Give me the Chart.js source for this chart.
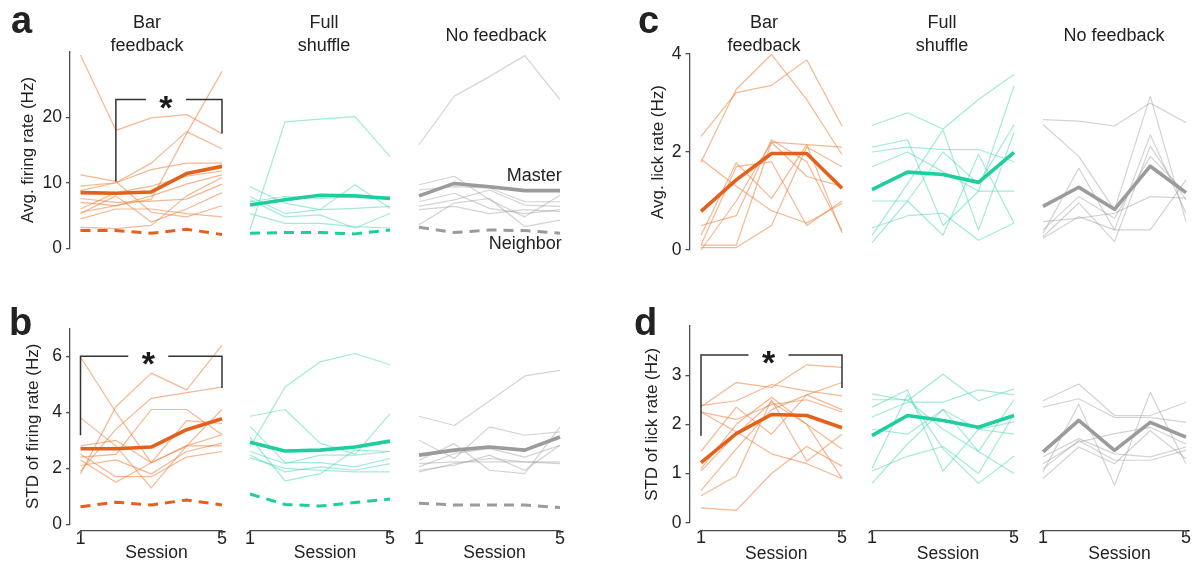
<!DOCTYPE html>
<html><head><meta charset="utf-8">
<script src="https://cdn.jsdelivr.net/npm/chart.js@4"></script>
<style>
html,body{margin:0;padding:0;background:#fff;}
#wrap{position:relative;width:1192px;height:565px;overflow:hidden;font-family:"Liberation Sans",Arial,sans-serif;color:#222;}
canvas{position:absolute;}
.t{position:absolute;white-space:nowrap;line-height:1;}
</style></head><body><div id="wrap"></div>
<script>
// ---------- data ----------
const sessions = [1, 2, 3, 4, 5];
const sessionTicks = [1, 5];
const firingTicks = [0, 10, 20];
const firingStdTicks = [0, 2, 4, 6];
const lickTicks = [0, 2, 4];
const lickStdTicks = [0, 1, 2, 3];

// a: average firing rate (Hz)
const firingBarMean = [8.5, 8.4, 8.6, 11.4, 12.5];
const firingBarNeighbor = [2.7, 2.7, 2.3, 2.9, 2.1];
const firingBarThin = [
  [29.5, 18.0, 19.9, 20.4, 17.5],
  [5.5, 6.5, 7.5, 17.5, 27.0],
  [9.5, 10.0, 13.0, 17.8, 15.2],
  [11.2, 10.2, 5.5, 4.8, 6.5],
  [8.8, 10.0, 12.0, 13.0, 13.0],
  [7.6, 7.0, 7.2, 7.5, 9.8],
  [6.0, 8.5, 9.5, 11.0, 11.8],
  [5.3, 8.0, 4.0, 6.0, 8.5],
  [4.5, 6.0, 6.0, 5.3, 4.8],
  [3.2, 3.0, 3.5, 8.0, 10.8],
  [7.0, 6.5, 8.0, 9.8, 11.2]
];
const firingShufMean = [6.6, 7.4, 8.1, 8.0, 7.6];
const firingShufNeighbor = [2.3, 2.4, 2.4, 2.2, 2.8];
const firingShufThin = [
  [2.8, 19.3, 19.7, 20.1, 14.0],
  [9.4, 6.9, 5.9, 9.7, 6.1],
  [7.9, 5.3, 5.9, 6.1, 6.4],
  [7.4, 4.8, 5.1, 3.1, 5.3],
  [5.3, 3.8, 3.8, 3.3, 3.1],
  [7.1, 7.9, 7.6, 7.9, 7.9]
];
const firingNoMean = [8.0, 9.9, 9.4, 8.8, 8.8];
const firingNoNeighbor = [3.2, 2.4, 2.8, 2.7, 2.3];
const firingNoThin = [
  [15.8, 23.2, 26.2, 29.4, 22.7],
  [9.7, 11.0, 7.4, 4.8, 8.1],
  [8.9, 9.4, 9.2, 7.1, 7.1],
  [6.4, 7.4, 8.9, 6.6, 6.4],
  [5.9, 6.4, 5.3, 5.9, 5.6],
  [3.6, 6.9, 7.6, 3.3, 4.3],
  [7.1, 8.4, 6.1, 5.3, 5.9]
];

// b: STD of firing rate (Hz)
const stdBarMean = [2.70, 2.70, 2.76, 3.38, 3.77];
const stdBarNeighbor = [0.63, 0.79, 0.69, 0.87, 0.69];
const stdBarThin = [
  [5.97, 4.0, 2.2, 2.8, 3.2],
  [3.8, 2.8, 1.3, 2.8, 4.1],
  [1.8, 4.2, 5.4, 4.8, 6.4],
  [1.9, 3.4, 4.5, 4.7, 4.9],
  [2.3, 1.5, 2.2, 3.7, 3.6],
  [2.4, 2.5, 4.1, 4.1, 3.2],
  [2.1, 2.3, 1.8, 2.6, 2.9],
  [2.5, 1.7, 1.7, 2.4, 2.6],
  [2.8, 3.0, 2.2, 2.8, 2.8]
];
const stdShufMean = [2.93, 2.62, 2.65, 2.76, 2.97];
const stdShufNeighbor = [1.08, 0.71, 0.65, 0.78, 0.90];
const stdShufThin = [
  [2.76, 4.9, 5.8, 6.1, 5.7],
  [3.86, 4.1, 2.9, 2.5, 3.95],
  [3.5, 2.2, 2.2, 2.05, 2.35],
  [3.1, 1.55, 1.8, 2.65, 2.6],
  [2.6, 2.17, 2.47, 2.47, 2.6],
  [2.37, 2.0, 1.93, 1.87, 1.87],
  [2.47, 1.87, 2.05, 1.93, 2.17]
];
const stdNoMean = [2.47, 2.65, 2.76, 2.65, 3.12];
const stdNoNeighbor = [0.75, 0.69, 0.69, 0.69, 0.6];
const stdNoThin = [
  [3.86, 3.53, 4.4, 5.3, 5.5],
  [3.0, 2.35, 3.48, 3.18, 3.3],
  [2.29, 2.88, 1.93, 1.81, 3.48],
  [2.05, 2.53, 2.7, 2.4, 2.82],
  [1.87, 2.17, 2.35, 2.23, 2.17],
  [2.17, 2.23, 2.23, 2.23, 2.23],
  [1.93, 2.11, 2.47, 1.93, 2.82]
];

// c: average lick rate (Hz)
const lickBarMean = [0.79, 1.43, 1.97, 1.97, 1.26];
const lickBarThin = [
  [2.32, 3.21, 3.36, 3.88, 2.53],
  [1.79, 3.28, 3.99, 3.07, 1.95],
  [1.85, 1.3, 0.8, 0.55, 0.95],
  [0.3, 1.78, 1.05, 2.15, 2.1],
  [0.1, 0.1, 2.2, 2.15, 0.35],
  [0.05, 0.05, 0.5, 2.1, 1.7],
  [0.5, 0.7, 2.25, 1.8, 0.4],
  [0.1, 1.7, 1.8, 0.5, 1.0],
  [0.0, 1.0, 2.2, 1.5, 1.3]
];
const lickShufMean = [1.23, 1.59, 1.54, 1.38, 1.99];
const lickShufThin = [
  [2.54, 2.8, 2.47, 3.07, 3.58],
  [2.1, 2.25, 0.5, 1.2, 3.35],
  [2.0, 2.1, 2.05, 2.05, 1.8],
  [1.7, 2.0, 1.6, 1.2, 1.2],
  [0.3, 1.35, 2.45, 0.4, 2.4],
  [1.0, 1.0, 2.0, 1.35, 2.55],
  [0.45, 0.7, 0.75, 0.2, 0.55],
  [0.15, 1.0, 0.3, 1.95, 0.55]
];
const lickNoMean = [0.89, 1.28, 0.83, 1.71, 1.17];
const lickNoThin = [
  [2.66, 2.63, 2.53, 3.0, 2.6],
  [2.56, 1.91, 0.82, 3.14, 0.58],
  [0.34, 1.67, 0.41, 2.35, 0.75],
  [0.27, 0.96, 0.17, 2.12, 1.02],
  [0.24, 0.68, 0.41, 0.41, 1.43],
  [0.58, 0.65, 0.75, 1.09, 1.06],
  [0.41, 1.09, 0.65, 1.91, 1.16]
];

// d: STD of lick rate (Hz)
const lickStdBarMean = [1.22, 1.81, 2.2, 2.18, 1.93];
const lickStdBarThin = [
  [2.36, 2.85, 2.75, 3.21, 3.16],
  [2.38, 2.48, 2.81, 2.68, 2.58],
  [2.25, 1.85, 1.4, 1.2, 0.9],
  [1.45, 2.35, 1.8, 2.6, 2.85],
  [1.1, 2.0, 2.55, 2.0, 0.9],
  [0.65, 1.5, 2.3, 2.6, 2.3],
  [0.3, 0.25, 1.0, 1.55, 1.15],
  [0.55, 0.95, 2.5, 1.25, 1.8],
  [1.05, 1.8, 2.45, 2.0, 1.5],
  [2.25, 2.1, 2.4, 2.5, 2.25]
];
const lickStdShufMean = [1.77, 2.18, 2.08, 1.94, 2.18];
const lickStdShufThin = [
  [2.62, 2.48, 3.02, 2.48, 2.72],
  [2.35, 2.7, 1.05, 1.9, 2.05],
  [2.15, 2.45, 2.45, 2.7, 2.6],
  [1.9, 1.8, 2.3, 1.45, 2.5],
  [1.1, 2.6, 1.5, 0.8, 1.35],
  [0.8, 1.6, 2.3, 1.9, 1.8],
  [1.05, 1.35, 1.55, 1.0, 2.2],
  [2.5, 2.5, 1.9, 1.45, 1.0]
];
const lickStdNoMean = [1.44, 2.08, 1.47, 2.04, 1.74];
const lickStdNoThin = [
  [2.48, 2.82, 2.18, 2.18, 2.45],
  [2.35, 2.52, 2.14, 2.14, 2.04],
  [1.03, 2.41, 0.76, 2.65, 1.2],
  [1.2, 1.64, 1.81, 1.94, 1.6],
  [1.1, 1.67, 1.27, 1.27, 1.47],
  [0.9, 1.54, 1.2, 1.87, 1.3],
  [1.34, 1.71, 1.4, 1.34, 1.54]
];

// ---------- styling / layout ----------
const FONT = '"Liberation Sans", Arial, sans-serif';
const AX = '#4d4d4d';
const TXT = '#222222';
const C = {
  orange: '#E2621B', orangeThin: 'rgba(238,135,75,0.6)',
  teal: '#1ECE9F', tealThin: 'rgba(70,215,175,0.5)',
  gray: '#9B9B9B', grayThin: 'rgba(150,150,150,0.42)'
};
Chart.defaults.font.family = FONT;

const wrap = document.getElementById('wrap');

function text(s, x, base, size, align, bold) {
  const d = document.createElement('div');
  d.className = 't';
  d.textContent = s;
  d.style.fontSize = size + 'px';
  d.style.fontWeight = bold ? 'bold' : 'normal';
  d.style.top = (base - 0.8465 * size) + 'px';
  d.style.left = x + 'px';
  if (align === 'center') d.style.transform = 'translateX(-50%)';
  else if (align === 'right') d.style.transform = 'translateX(-100%)';
  wrap.appendChild(d);
}

const cols = [
  {x1: 80.5, x5: 222, axisX: 70, canvasLeft: 0},
  {x1: 250, x5: 390},
  {x1: 419, x5: 560},
  {x1: 701, x5: 842, axisX: 689.5, canvasLeft: 600},
  {x1: 872, x5: 1014},
  {x1: 1043, x5: 1186}
];
const rows = {
  a: {T: 51.7, B: 248.3, cy: 0, ch: 270, yMax: 30},
  b: {T: 328.3, B: 524.3, cy: 280, ch: 285, yMax: 7, xAxis: true, xAxisOff: 6.4, xTitleBottom: 563.7, xLabelPad: 3.5},
  c: {T: 54, B: 250, cy: 0, ch: 270, yMax: 4},
  d: {T: 326, B: 522.7, cy: 280, ch: 285, yMax: 4, xAxis: true, xAxisOff: 8, xTitleBottom: 564.2, xLabelPad: 5}
};

function lineDs(vals, color, width, order, dash) {
  return {
    data: sessions.map((s, i) => ({x: s, y: vals[i]})),
    borderColor: color, borderWidth: width, pointRadius: 0, tension: 0,
    fill: false, clip: false, order: order, borderDash: dash || [],
    borderJoinStyle: 'round'
  };
}

let pid = 0;
function panel(col, row, s, o) {
  const hasY = !!o.yTitle;
  const hasX = !!row.xAxis;
  const cx = hasY ? col.canvasLeft : col.x1 - 15;
  const L = hasY ? col.axisX : col.x1;
  const R = hasY ? col.x5 + 21 : col.x5 + 10;
  const cw = Math.round(R + 17 - cx);
  const unit = (col.x5 - col.x1) / 4;
  const xmin = 1 - (col.x1 - L) / unit, xmax = 5 + (R - col.x5) / unit;
  const xH = hasX ? row.xTitleBottom - row.B : 0;
  const yW = hasY ? L - cx : 0;
  const pad = {left: L - cx - yW, right: cx + cw - R, top: row.T - row.cy, bottom: row.cy + row.ch - row.B - xH};

  const cv = document.createElement('canvas');
  cv.width = cw; cv.height = row.ch;
  cv.style.left = cx + 'px'; cv.style.top = row.cy + 'px';
  cv.style.width = cw + 'px'; cv.style.height = row.ch + 'px';
  wrap.appendChild(cv);

  const ds = [];
  s.thin.forEach(v => ds.push(lineDs(v, s.thinColor, 1.2, 2)));
  if (s.neighbor) ds.push(lineDs(s.neighbor, s.color, 3, 1, [10, 7]));
  ds.push(lineDs(s.mean, s.color, 3.6, 0));

  const deco = {
    id: 'deco' + (pid++),
    afterDatasetsDraw(chart) {
      const ctx = chart.ctx, x = chart.scales.x, y = chart.scales.y, ca = chart.chartArea;
      ctx.save();
      if (hasX) {
        const yy = ca.bottom + row.xAxisOff;
        const xa = x.getPixelForValue(sessionTicks[0]);
        const xb = x.getPixelForValue(sessionTicks[sessionTicks.length - 1]);
        ctx.strokeStyle = AX; ctx.lineWidth = 1.3;
        ctx.beginPath();
        ctx.moveTo(xa, yy + 4); ctx.lineTo(xa, yy); ctx.lineTo(xb, yy); ctx.lineTo(xb, yy + 4);
        ctx.stroke();
      }
      if (o.bracket) {
        const b = o.bracket;
        const xa = x.getPixelForValue(b.from), xb = x.getPixelForValue(b.to);
        const yt = y.getPixelForValue(b.top);
        const sx = (xa + xb) / 2 - 3;
        ctx.strokeStyle = '#333'; ctx.lineWidth = 1.5;
        ctx.beginPath();
        ctx.moveTo(xa, y.getPixelForValue(b.left)); ctx.lineTo(xa, yt); ctx.lineTo(sx - 20, yt);
        ctx.moveTo(sx + 20, yt); ctx.lineTo(xb, yt); ctx.lineTo(xb, y.getPixelForValue(b.right));
        ctx.stroke();
        ctx.fillStyle = '#1a1a1a';
        ctx.font = 'bold 34px ' + FONT;
        ctx.textAlign = 'center'; ctx.textBaseline = 'alphabetic';
        ctx.fillText('*', sx, yt + 19);
      }
      ctx.restore();
    }
  };

  new Chart(cv, {
    type: 'line',
    data: {datasets: ds},
    options: {
      responsive: false, animation: false, events: [], devicePixelRatio: 1,
      layout: {padding: pad, autoPadding: false},
      plugins: {legend: {display: false}, tooltip: {enabled: false}, title: {display: false}},
      scales: {
        x: {
          type: 'linear', min: xmin, max: xmax, display: hasX,
          afterBuildTicks: a => { a.ticks = sessionTicks.map(v => ({value: v})); },
          afterFit: sc => { sc.height = xH; },
          grid: {display: false, drawTicks: false},
          border: {display: false},
          ticks: {padding: row.xLabelPad || 0, font: {family: FONT, size: 18}, color: TXT, autoSkip: false, maxRotation: 0, callback: v => String(v)},
          title: {display: hasX, text: 'Session', font: {family: FONT, size: 17.5}, color: TXT, padding: {top: 0, bottom: 0}}
        },
        y: {
          type: 'linear', min: 0, max: row.yMax, display: hasY,
          afterBuildTicks: a => { a.ticks = o.yTicks.map(v => ({value: v})); },
          afterFit: sc => { sc.width = yW; },
          grid: {display: true, drawOnChartArea: false, drawTicks: true, tickLength: 4, color: AX, lineWidth: 1.3},
          border: {display: true, color: AX, width: 1.3},
          ticks: {padding: 4, font: {family: FONT, size: 17.5}, color: TXT, autoSkip: false},
          title: {display: hasY, text: o.yTitle || '', font: {family: FONT, size: 17}, color: TXT,
                  padding: {top: hasY ? (o.yTitleX - cx - 10.2) : 0, bottom: 0}}
        }
      }
    },
    plugins: [deco]
  });
}

// ---------- panels ----------
const O = {color: C.orange, thinColor: C.orangeThin};
const T = {color: C.teal, thinColor: C.tealThin};
const G = {color: C.gray, thinColor: C.grayThin};

panel(cols[0], rows.a, {...O, mean: firingBarMean, neighbor: firingBarNeighbor, thin: firingBarThin},
  {yTitle: 'Avg. firing rate (Hz)', yTitleX: 28, yTicks: firingTicks, bracket: {from: 2, to: 5, top: 22.7, left: 10.2, right: 17.5}});
panel(cols[1], rows.a, {...T, mean: firingShufMean, neighbor: firingShufNeighbor, thin: firingShufThin}, {yTicks: firingTicks});
panel(cols[2], rows.a, {...G, mean: firingNoMean, neighbor: firingNoNeighbor, thin: firingNoThin}, {yTicks: firingTicks});

panel(cols[0], rows.b, {...O, mean: stdBarMean, neighbor: stdBarNeighbor, thin: stdBarThin},
  {yTitle: 'STD of firing rate (Hz)', yTitleX: 33, yTicks: firingStdTicks, bracket: {from: 1, to: 5, top: 6.0, left: 3.18, right: 4.87}});
panel(cols[1], rows.b, {...T, mean: stdShufMean, neighbor: stdShufNeighbor, thin: stdShufThin}, {yTicks: firingStdTicks});
panel(cols[2], rows.b, {...G, mean: stdNoMean, neighbor: stdNoNeighbor, thin: stdNoThin}, {yTicks: firingStdTicks});

panel(cols[3], rows.c, {...O, mean: lickBarMean, thin: lickBarThin},
  {yTitle: 'Avg. lick rate (Hz)', yTitleX: 658, yTicks: lickTicks});
panel(cols[4], rows.c, {...T, mean: lickShufMean, thin: lickShufThin}, {yTicks: lickTicks});
panel(cols[5], rows.c, {...G, mean: lickNoMean, thin: lickNoThin}, {yTicks: lickTicks});

panel(cols[3], rows.d, {...O, mean: lickStdBarMean, thin: lickStdBarThin},
  {yTitle: 'STD of lick rate (Hz)', yTitleX: 652, yTicks: lickStdTicks, bracket: {from: 1, to: 5, top: 3.41, left: 1.77, right: 2.74}});
panel(cols[4], rows.d, {...T, mean: lickStdShufMean, thin: lickStdShufThin}, {yTicks: lickStdTicks});
panel(cols[5], rows.d, {...G, mean: lickStdNoMean, thin: lickStdNoThin}, {yTicks: lickStdTicks});

// ---------- text labels ----------
text('a', 11, 33.5, 38, 'left', true);
text('b', 9, 335.5, 38, 'left', true);
text('c', 638, 33.5, 38, 'left', true);
text('d', 634, 335.5, 38, 'left', true);

text('Bar', 147, 28.3, 18, 'center');
text('feedback', 147, 51.5, 18, 'center');
text('Full', 324, 28.3, 18, 'center');
text('shuffle', 324, 51.5, 18, 'center');
text('No feedback', 496, 41.7, 18, 'center');
text('Bar', 764, 28.3, 18, 'center');
text('feedback', 764, 51.5, 18, 'center');
text('Full', 942, 28.3, 18, 'center');
text('shuffle', 942, 51.5, 18, 'center');
text('No feedback', 1114, 41.7, 18, 'center');

text('Master', 561.7, 181.7, 18, 'right');
text('Neighbor', 561.7, 249, 18, 'right');
</script>
</body></html>
